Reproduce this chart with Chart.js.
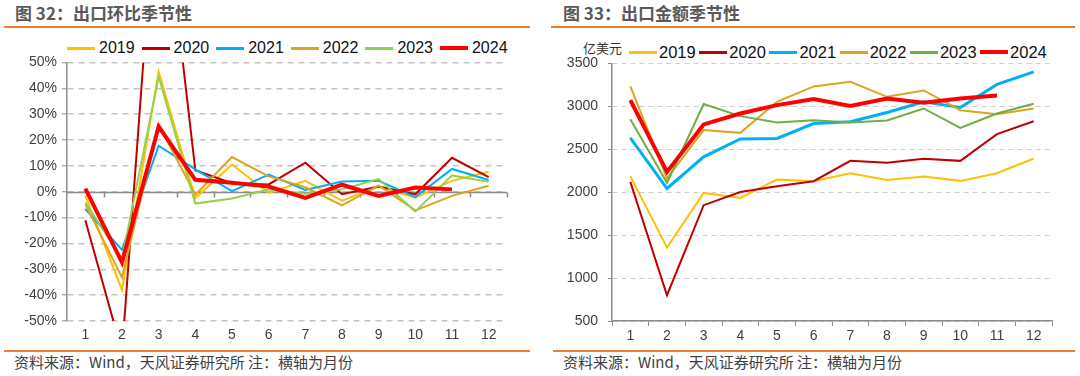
<!DOCTYPE html>
<html>
<head>
<meta charset="utf-8">
<script src="https://cdn.jsdelivr.net/npm/chart.js@4.4.1/dist/chart.umd.min.js"></script>
<style>
  body { margin: 0; width: 1080px; height: 376px; background: #fff; position: relative; overflow: hidden;
         font-family: "Liberation Sans", Arial, "Noto Sans CJK SC", sans-serif; }
  .title { position: absolute; top: 3px; font: bold 17px "Noto Sans CJK SC", sans-serif; color: #595959; line-height: 20px; white-space: nowrap; }
  .rule { position: absolute; height: 2px; background: #ED7D31; }
  .note { position: absolute; top: 353px; font: 15px "Noto Sans CJK SC", sans-serif; color: #404040; line-height: 18px; white-space: nowrap; }
  .legend { position: absolute; display: flex; align-items: center; color: #111; white-space: nowrap; }
  .legend .sw { display: inline-block; width: 28px; }
  .unit { position: absolute; left: 583px; top: 39px; font: 13px "Noto Sans CJK SC", sans-serif; color: #333; line-height: 18px; }
  .box { position: absolute; }
</style>
</head>
<body>

<div class="title" style="left:15px">图 32：出口环比季节性</div>
<div class="rule" style="left:4px; width:526px; top:26px"></div>
<div class="title" style="left:563px">图 33：出口金额季节性</div>
<div class="rule" style="left:551px; width:524px; top:26px"></div>

<div class="legend" id="legLeft" style="left:67px; top:38px; height:20px; font-size:16px"></div>
<div class="unit">亿美元</div>
<div class="legend" id="legRight" style="left:629px; top:42px; height:20px; font-size:16.5px"></div>

<div class="box" style="left:0; top:49px; width:530px; height:301px"><canvas id="momChart" width="530" height="301"></canvas></div>
<div class="box" style="left:545px; top:45px; width:530px; height:305px"><canvas id="valChart" width="530" height="305"></canvas></div>

<div class="rule" style="left:4px; width:526px; top:350px"></div>
<div class="note" style="left:14px">资料来源：Wind，天风证券研究所 注：横轴为月份</div>
<div class="rule" style="left:553px; width:522px; top:350px"></div>
<div class="note" style="left:563px">资料来源：Wind，天风证券研究所 注：横轴为月份</div>

<script>
// ---------- data ----------
const months = ['1', '2', '3', '4', '5', '6', '7', '8', '9', '10', '11', '12'];
const years = ['2019', '2020', '2021', '2022', '2023', '2024'];

// month-on-month change, %
const mom2019 = [-1.5, -38, 46.5, -2.5, 10.5, -0.5, 4.2, -3.5, 2, -2.3, 4.2, 7.7];
const mom2020 = [-11, -62, 131, 8.3, 3.3, 2.8, 11.2, -1, 2, -1, 13.1, 5.6];
const mom2021 = [-6.7, -22.5, 17.8, 8.6, 0.2, 6.6, 0.7, 3.9, 4.2, -2.1, 8.8, 4.5];
const mom2022 = [-4.8, -33.2, 26, -1.2, 13.4, 5.9, 1.7, -5.3, 2.4, -7.2, -1.6, 2.3];
const mom2023 = [-4.2, -26, 44.5, -4.6, -2.6, 0.8, -0.8, 0.9, 4.9, -7.6, 6.3, 3.8];
const mom2024 = [1.2, -27.3, 25.2, 4.6, 3.5, 2, -2.4, 2.7, -1.6, 1.6, 0.9];

// export value, 100 million USD
const val2019 = [2187, 1355, 1992, 1934, 2148, 2128, 2221, 2143, 2183, 2132, 2221, 2393];
const val2020 = [2120, 800, 1849, 2003, 2070, 2128, 2365, 2342, 2389, 2365, 2676, 2827];
const val2021 = [2633, 2043, 2412, 2620, 2626, 2800, 2820, 2929, 3053, 2987, 3255, 3402];
const val2022 = [3235, 2160, 2723, 2691, 3053, 3232, 3286, 3111, 3185, 2955, 2909, 2975];
const val2023 = [2851, 2110, 3026, 2886, 2812, 2839, 2812, 2836, 2975, 2749, 2917, 3030];
const val2024 = [3072, 2237, 2789, 2917, 3014, 3084, 3003, 3092, 3041, 3092, 3127];

const momSeries = [mom2019, mom2020, mom2021, mom2022, mom2023, mom2024];
const valSeries = [val2019, val2020, val2021, val2022, val2023, val2024];

const colorsLeft = ['#FFC000', '#C00000', '#00B0F0', '#DAA520', '#92D050', '#FF0000'];
const colorsRight = ['#FFC000', '#C00000', '#00B0F0', '#DAA520', '#70AD47', '#FF0000'];
const widthsLeft = [2, 2, 2, 2, 2, 4];
const widthsRight = [2, 2, 3, 2, 2, 4];

// ---------- legends ----------
function buildLegend(id, colors, gapLine, gapItem) {
  const el = document.getElementById(id);
  years.forEach((yr, i) => {
    const sw = document.createElement('span');
    sw.className = 'sw';
    sw.style.height = (i === 5 ? 4 : 3) + 'px';
    sw.style.background = colors[i];
    sw.style.marginRight = gapLine + 'px';
    const tx = document.createElement('span');
    tx.textContent = yr;
    tx.style.marginRight = gapItem + 'px';
    el.appendChild(sw);
    el.appendChild(tx);
  });
}
buildLegend('legLeft', colorsLeft, 4, 7);
buildLegend('legRight', colorsRight, 2, 3.5);

// ---------- charts ----------
Chart.defaults.font.family = '"Liberation Sans", Arial, sans-serif';
Chart.defaults.color = '#404040';

function makeDatasets(series, colors, widths) {
  return series.map((data, i) => ({
    label: years[i],
    data: data,
    borderColor: colors[i],
    backgroundColor: colors[i],
    borderWidth: widths[i],
    pointRadius: 0,
    tension: 0,
    order: years.length - i
  }));
}

// solid zero line with tick marks on the month-on-month chart
const zeroAxis = {
  id: 'zeroAxis',
  beforeDatasetsDraw(chart) {
    const xs = chart.scales.x, ys = chart.scales.y, ctx = chart.ctx;
    const y0 = Math.round(ys.getPixelForValue(0)) + 0.5;
    const band = (xs.right - xs.left) / months.length;
    ctx.save();
    ctx.strokeStyle = '#8c8c8c';
    ctx.lineWidth = 1.5;
    ctx.beginPath();
    ctx.moveTo(xs.left, y0);
    ctx.lineTo(xs.right, y0);
    for (let i = 1; i <= months.length; i++) {
      const px = Math.round(xs.left + band * i) + 0.5;
      ctx.moveTo(px, y0);
      ctx.lineTo(px, y0 + 5);
    }
    ctx.stroke();
    ctx.restore();
  }
};

new Chart(document.getElementById('momChart'), {
  type: 'line',
  data: { labels: months, datasets: makeDatasets(momSeries, colorsLeft, widthsLeft) },
  options: {
    responsive: false,
    animation: false,
    devicePixelRatio: 1,
    layout: { padding: { top: 0, right: 23, left: 0, bottom: 0 } },
    plugins: { legend: { display: false }, tooltip: { enabled: false } },
    scales: {
      x: {
        offset: true,
        grid: { display: false, drawTicks: false },
        border: { display: false },
        ticks: { font: { size: 14 }, color: '#404040', padding: 6, maxRotation: 0 },
        afterFit: s => { s.height = 29; }
      },
      y: {
        min: -50, max: 50,
        ticks: { stepSize: 10, font: { size: 14 }, color: '#404040', padding: 5, callback: v => v + '%' },
        grid: { color: '#c4c4c4', lineWidth: 1.5, drawTicks: true, tickLength: 5, tickColor: '#8c8c8c', tickWidth: 1 },
        border: { display: true, color: '#8c8c8c', width: 1.5, dash: [6, 5] },
        afterFit: s => { s.width = 67; }
      }
    }
  },
  plugins: [zeroAxis]
});

new Chart(document.getElementById('valChart'), {
  type: 'line',
  data: { labels: months, datasets: makeDatasets(valSeries, colorsRight, widthsRight) },
  options: {
    responsive: false,
    animation: false,
    devicePixelRatio: 1,
    layout: { padding: { top: 0, right: 23, left: 0, bottom: 0 } },
    plugins: { legend: { display: false }, tooltip: { enabled: false } },
    scales: {
      x: {
        offset: true,
        grid: { display: true, offset: true, drawOnChartArea: false, drawTicks: true, tickLength: 5, color: '#8c8c8c' },
        border: { display: true, color: '#8c8c8c', width: 1.5 },
        ticks: { font: { size: 14 }, color: '#404040', padding: 2, maxRotation: 0 },
        afterFit: s => { s.height = 29; }
      },
      y: {
        min: 500, max: 3500,
        ticks: { stepSize: 500, font: { size: 14 }, color: '#404040', padding: 10, callback: v => String(v) },
        grid: { color: '#cfcfcf', lineWidth: 1, drawTicks: true, tickLength: 4, tickColor: '#8c8c8c', tickWidth: 1 },
        border: { display: true, color: '#8c8c8c', width: 1.5, dash: [5, 4] },
        afterFit: s => { s.width = 67; }
      }
    }
  }
});
</script>
</body>
</html>
